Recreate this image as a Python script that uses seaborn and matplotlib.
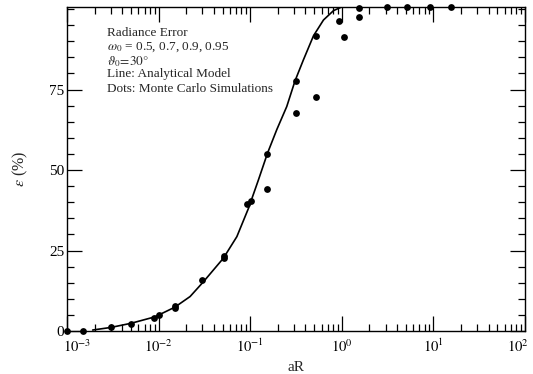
import numpy as np
import pandas as pd
import matplotlib
matplotlib.use("Agg")
import matplotlib.pyplot as plt
import matplotlib.transforms as mtransforms
from matplotlib.ticker import LogLocator, MultipleLocator, NullFormatter
import seaborn as sns

# Analytical model (line)
line_x = [0.0019, 0.003, 0.005, 0.0091, 0.015, 0.022, 0.0308, 0.0508, 0.0713,
          0.0955, 0.1226, 0.154, 0.195, 0.25, 0.308, 0.38, 0.49, 0.63, 0.81, 0.97]
line_y = [0.3, 1.1, 2.4, 4.4, 7.4, 10.7, 15.3, 22.6, 29.3,
          38.1, 46.9, 55.2, 62.6, 69.7, 77.7, 84.2, 91.7, 96.6, 99.5, 100.5]

# Monte Carlo simulations (dots)
dot_x = [0.001, 0.00148, 0.0030, 0.0050, 0.0089, 0.0100, 0.015, 0.015, 0.030,
         0.051, 0.052, 0.093, 0.103, 0.151, 0.151, 0.314, 0.314, 0.52, 0.52,
         0.94, 1.05, 1.55, 1.55, 3.1, 5.1, 9.2, 15.5]
dot_y = [0.0, 0.0, 1.3, 2.2, 4.1, 5.0, 7.8, 7.2, 15.8,
         23.3, 22.6, 39.4, 40.5, 44.0, 55.0, 77.7, 67.8, 91.7, 72.8,
         96.3, 91.2, 100.2, 97.4, 100.6, 100.7, 100.6, 100.6]

y_ticks = [0, 25, 50, 75]
x_ticks = [1e-3, 1e-2, 1e-1, 1e0, 1e1, 1e2]
x_ticklabels = [r"$10^{-3}$", r"$10^{-2}$", r"$10^{-1}$", r"$10^{0}$", r"$10^{1}$", r"$10^{2}$"]
annot_lines = ["Radiance Error",
               r"$\omega_0$ = 0.5, 0.7, 0.9, 0.95",
               r"$\vartheta_0\!=\!30°$",
               "Line: Analytical Model",
               "Dots: Monte Carlo Simulations"]

sns.set_style("ticks")
plt.rcParams["font.family"] = ["Liberation Serif", "DejaVu Serif"]
plt.rcParams["mathtext.fontset"] = "stix"

line_df = pd.DataFrame({"x": line_x, "y": line_y})
dot_df = pd.DataFrame({"x": dot_x, "y": dot_y})

fig = plt.figure(figsize=(5.33, 3.74), dpi=100)
ax = fig.add_axes([0.126, 0.115, 0.859, 0.866])

sns.lineplot(data=line_df, x="x", y="y", ax=ax, color="black", lw=1.2,
             estimator=None, sort=False)
sns.scatterplot(data=dot_df, x="x", y="y", ax=ax, color="black", s=24,
                edgecolor="black", linewidth=0, clip_on=False, zorder=5)

ax.set_xscale("log")
ax.set_xlim(1e-3, 1e2)
ax.set_ylim(0, 100.6)
ax.set_xticks(x_ticks)
ax.set_xticklabels(x_ticklabels)
ax.xaxis.set_minor_locator(LogLocator(base=10, subs=np.arange(2, 10), numticks=20))
ax.xaxis.set_minor_formatter(NullFormatter())
ax.set_yticks(y_ticks)
ax.set_yticklabels([str(v) for v in y_ticks])
ax.yaxis.set_minor_locator(MultipleLocator(5))

ax.tick_params(which="both", direction="in", top=True, right=True,
               colors="black", width=0.9)
ax.tick_params(axis="y", labelsize=11, pad=2)
ax.tick_params(axis="x", labelsize=10.5, pad=5)
ax.tick_params(which="major", length=11)
ax.tick_params(which="minor", length=5)
for sp in ax.spines.values():
    sp.set_color("black")
    sp.set_linewidth(1.0)

# nudge the end x tick labels inward, as in the reference
xlabels = ax.get_xticklabels()
xlabels[0].set_transform(xlabels[0].get_transform() +
                         mtransforms.ScaledTranslation(10 / 100, 0, fig.dpi_scale_trans))
xlabels[-1].set_transform(xlabels[-1].get_transform() +
                          mtransforms.ScaledTranslation(-7 / 100, 0, fig.dpi_scale_trans))

ax.set_xlabel("aR", fontsize=11, labelpad=4)
ax.set_ylabel(r"$\epsilon$ (%)", fontsize=11.5, labelpad=14)

ys = [0.920, 0.877, 0.832, 0.793, 0.747]
for t, yy in zip(annot_lines, ys):
    ax.text(0.087, yy, t, transform=ax.transAxes, fontsize=9.5, va="center", ha="left")

fig.savefig("out.png", dpi=100)
